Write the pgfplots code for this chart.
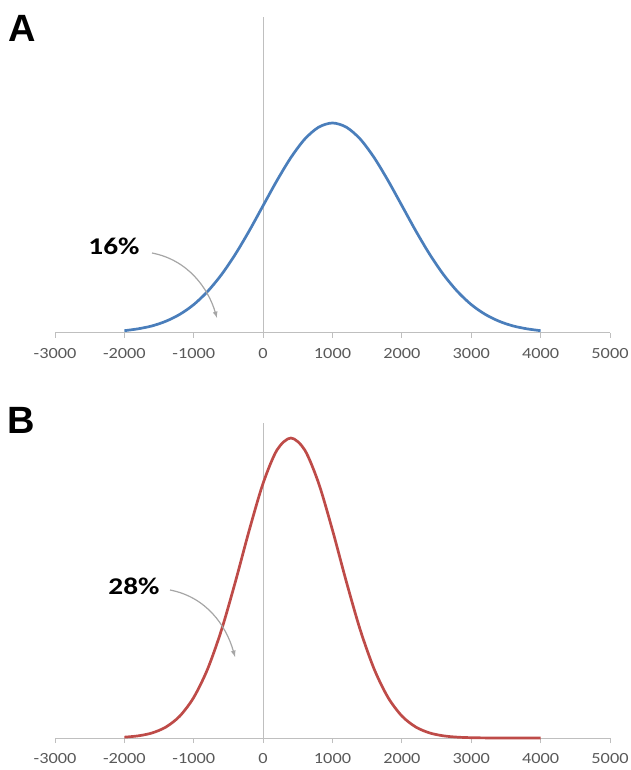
\documentclass[border=0pt]{standalone}
\usepackage{pgfplots}
\pgfplotsset{compat=1.18}
\usepackage{fontspec}
\setmainfont{Carlito}
\newfontfamily\arialb{Liberation Sans}
\definecolor{exblue}{HTML}{4A7EBB}
\definecolor{exred}{HTML}{BE4B48}
\definecolor{axgray}{HTML}{BFBFBF}
\definecolor{lblgray}{HTML}{595959}
\pgfplotsset{
  panel/.style={
    scale only axis, width=555pt,
    xmin=-3000, xmax=5000, ymin=0,
    axis x line=bottom, axis y line=none,
    axis line style={axgray, line width=1pt, -},
    xtick={-3000,-2000,-1000,0,1000,2000,3000,4000,5000},
    xticklabels={-3000,-2000,-1000,0,1000,2000,3000,4000,5000},
    tick style={axgray, line width=1pt},
    tick align=outside, major tick length=5pt,
    xticklabel style={font=\fontsize{15.5}{15.5}\selectfont, text=lblgray, yshift=-7pt, xscale=1.18},
    clip=false,
  }
}
\begin{document}
\begin{tikzpicture}[x=1pt,y=1pt]
\path[use as bounding box] (0,0) rectangle (630,770);
\begin{axis}[panel, at={(55pt,437pt)}, anchor=south west, height=316pt, ymax=316]
\draw[axgray, line width=1pt] (axis cs:0,0) -- (axis cs:0,316);
\addplot[exblue, line width=2.7pt, smooth] coordinates {
(-2000,2.3) (-1800,4.2) (-1600,7.1) (-1400,11.8) (-1200,18.7) (-1000,28.4)
(-800,41.6) (-600,58.4) (-400,78.8) (-200,102.2) (0,127.4) (200,152.5)
(400,175.4) (600,193.9) (800,205.8) (1000,210) (1200,205.8) (1400,193.9)
(1600,175.4) (1800,152.5) (2000,127.4) (2200,102.2) (2400,78.8) (2600,58.4)
(2800,41.6) (3000,28.4) (3200,18.7) (3400,11.8) (3600,7.1) (3800,4.2) (4000,2.3)
};
\end{axis}
\begin{axis}[panel, at={(55pt,32pt)}, anchor=south west, height=315pt, ymax=315]
\draw[axgray, line width=1pt] (axis cs:0,0) -- (axis cs:0,315);
\addplot[exred, line width=2.7pt, smooth] coordinates {
(-2000,0.84) (-1800,2.15) (-1600,5.06) (-1400,11.0) (-1200,22.0) (-1000,40.6)
(-800,69.0) (-600,108.1) (-400,156.2) (-200,207.8) (0,254.8) (200,288.0)
(400,300) (600,288.0) (800,254.8) (1000,207.8) (1200,156.2) (1400,108.1)
(1600,69.0) (1800,40.6) (2000,22.0) (2200,11.0) (2400,5.06) (2600,2.15)
(2800,0.84) (3000,0.30) (3200,0.10) (3400,0.03) (3600,0.01) (3800,0) (4000,0)
};
\end{axis}
\node[font=\arialb\bfseries\fontsize{38}{38}\selectfont] at (22,742) {A};
\node[font=\arialb\bfseries\fontsize{38}{38}\selectfont] at (21,350) {B};
\node[font=\bfseries\fontsize{24}{24}\selectfont, xscale=1.22] at (114,524) {16\%};
\node[font=\bfseries\fontsize{24}{24}\selectfont, xscale=1.22] at (134,184) {28\%};
\draw[gray!70, line width=1.2pt, -latex] (152,517) .. controls (188,510) and (208,482) .. (217,452);
\draw[gray!70, line width=1.2pt, -latex] (170,180) .. controls (206,173) and (226,145) .. (235,113);
\end{tikzpicture}
\end{document}
